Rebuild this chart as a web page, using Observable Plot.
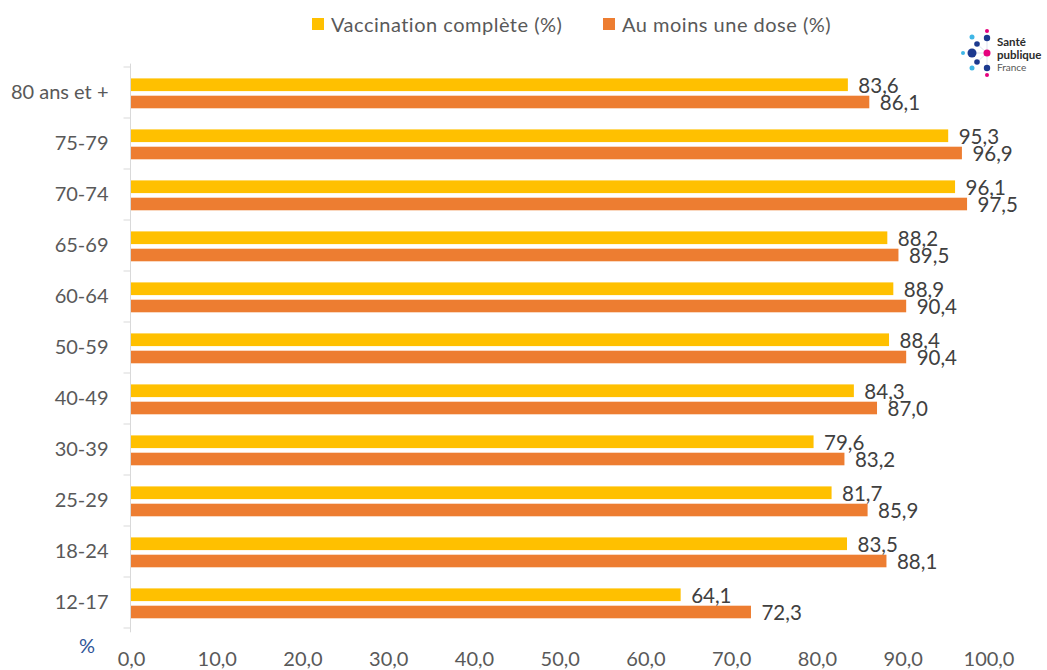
<!DOCTYPE html>
<html><head><meta charset="utf-8">
<script src="https://cdn.jsdelivr.net/npm/d3@7"></script>
<script src="https://cdn.jsdelivr.net/npm/@observablehq/plot@0.6"></script>
<style>
body{margin:0;background:#fff;font-family:Lato,"Open Sans",sans-serif;}
#wrap{position:relative;width:1047px;height:670px;}
#wrap > svg:first-child{display:block;}
.lg{position:absolute;font-size:20px;letter-spacing:0.5px;color:#595959;white-space:nowrap;line-height:1;}
.sw{position:absolute;width:12px;height:12px;}
#pct{position:absolute;left:79px;top:633px;font-size:20px;color:#2f5597;}
#logo{position:absolute;left:955px;top:25px;}
</style></head>
<body><div id="wrap">
<span class="sw" style="left:312px;top:18px;background:#FFC000"></span>
<span class="lg" style="left:331px;top:14px">Vaccination complète (%)</span>
<span class="sw" style="left:603px;top:18px;background:#ED7D31"></span>
<span class="lg" style="left:622px;top:14px">Au moins une dose (%)</span>
<div id="pct">%</div>
<svg id="logo" width="92" height="56">
 <g stroke="#c9cde0" stroke-width="0.6">
  <line x1="17" y1="28" x2="32" y2="28"/><line x1="22" y1="19" x2="32" y2="28"/><line x1="22" y1="37" x2="32" y2="28"/>
  <line x1="32" y1="13" x2="32" y2="43"/>
 </g>
 <circle cx="17" cy="12" r="2.5" fill="#3fb6e6"/>
 <circle cx="22" cy="19" r="2.8" fill="#1d3a8f"/>
 <circle cx="32" cy="6" r="2" fill="#e6007e"/>
 <circle cx="32" cy="13" r="3.2" fill="#1d3a8f"/>
 <circle cx="8" cy="28" r="2" fill="#3fb6e6"/>
 <circle cx="17" cy="28" r="4.5" fill="#1d3a8f"/>
 <circle cx="32" cy="28" r="3.5" fill="#e6007e"/>
 <circle cx="22" cy="37" r="2.8" fill="#1d3a8f"/>
 <circle cx="17" cy="43" r="2.5" fill="#3fb6e6"/>
 <circle cx="32" cy="43" r="3.2" fill="#1d3a8f"/>
 <circle cx="32" cy="50" r="2" fill="#e6007e"/>
 <text x="42" y="21" font-size="11.5" font-weight="bold" fill="#2b2b2b" font-family="Lato">Santé</text>
 <text x="42" y="33.5" font-size="11.5" font-weight="bold" fill="#2b2b2b" font-family="Lato">publique</text>
 <text x="42" y="46" font-size="10" fill="#555" font-family="Lato">France</text>
</svg>
</div>
<script>
const categories = ["80 ans et +","75-79","70-74","65-69","60-64","50-59","40-49","30-39","25-29","18-24","12-17"];
const complete = [83.6,95.3,96.1,88.2,88.9,88.4,84.3,79.6,81.7,83.5,64.1];
const oneDose = [86.1,96.9,97.5,89.5,90.4,90.4,87.0,83.2,85.9,88.1,72.3];
const xTicks = [0,10,20,30,40,50,60,70,80,90,100];

const rows = categories.map((c,i)=>({cat:c, complete:complete[i], oneDose:oneDose[i]}));
const fmt = v => v.toFixed(1).replace(".", ",");
const mTop = 63.6, mBottom = 37.7;
const bw = (670-mTop-mBottom)/categories.length;

const boundaryTicks = (index, scales, values, dim) => {
  const g = d3.create("svg:g").attr("stroke","#d9d9d9").attr("stroke-width",1);
  const x0 = scales.x(0) - 0.5;
  g.append("line").attr("x1",x0).attr("x2",x0).attr("y1",dim.marginTop).attr("y2",dim.height-dim.marginBottom);
  const ys = categories.map(c=>scales.y(c));
  ys.push(scales.y(categories[categories.length-1]) + scales.y.bandwidth());
  for (const y of ys) g.append("line").attr("x1",x0-7).attr("x2",x0).attr("y1",y).attr("y2",y);
  return g.node();
};

const plot = Plot.plot({
  width:1047, height:670,
  marginLeft:131, marginRight:58.5, marginTop:mTop, marginBottom:mBottom,
  style:{fontFamily:"Lato, sans-serif", fontSize:"20px", color:"#595959", background:"#fff"},
  x:{domain:[0,100], ticks:xTicks, tickFormat:fmt, tickSize:0, tickPadding:19, label:null},
  y:{domain:categories, padding:0, tickSize:0, tickPadding:23, label:null},
  marks:[
    Plot.barX(rows,{y:"cat", x:"complete", fill:"#FFC000", insetTop:11.4, insetBottom:bw-24.8}),
    Plot.barX(rows,{y:"cat", x:"oneDose", fill:"#ED7D31", insetTop:28.7, insetBottom:bw-42}),
    Plot.text(rows,{y:"cat", x:"complete", text:d=>fmt(d.complete), dx:10, dy:19-bw/2, textAnchor:"start", fill:"#404040", fontSize:20.5}),
    Plot.text(rows,{y:"cat", x:"oneDose", text:d=>fmt(d.oneDose), dx:10, dy:36.5-bw/2, textAnchor:"start", fill:"#404040", fontSize:20.5}),
    boundaryTicks
  ]
});
document.getElementById("wrap").prepend(plot);
</script>
</body></html>
